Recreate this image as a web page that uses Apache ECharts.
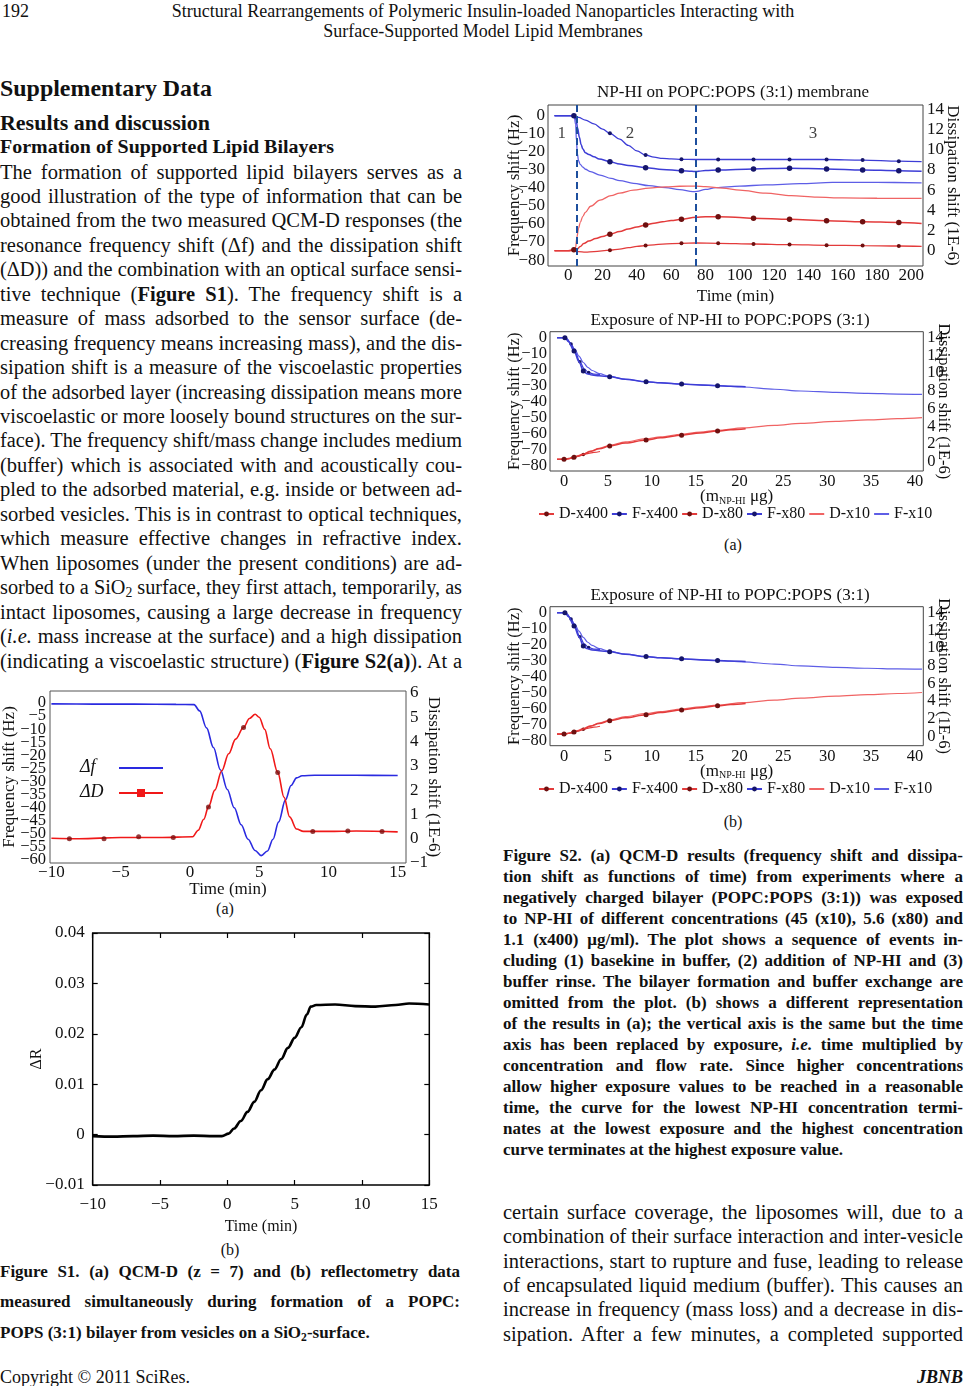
<!DOCTYPE html>
<html><head><meta charset="utf-8">
<script src="https://cdn.jsdelivr.net/npm/echarts/dist/echarts.min.js"></script>
<style>
html,body{margin:0;padding:0;background:#fff;}
#page{position:relative;width:965px;height:1386px;overflow:hidden;font-family:'Liberation Serif','Times New Roman',serif;color:#111;}
#chart{position:absolute;left:0;top:0;width:965px;height:1386px;z-index:2;}
.ln{position:absolute;white-space:nowrap;transform-origin:0 50%;z-index:1;}
.ln sub{font-size:0.68em;vertical-align:-0.25em;line-height:0;}
</style></head>
<body><div id="page"><div id="chart"></div></div>
<script>
// ---------------- DATA ----------------
// Figure S1(a): QCM-D
const s1aTime = [-10, -7, -4, -1, 0.3, 0.7, 1.2, 1.7, 2.2, 2.7, 3.2, 3.7, 4.2, 4.7, 5.15, 5.6, 6.0, 6.4, 6.9, 7.3, 7.7, 8.1, 9, 12, 15];
const s1aFreq = [-0.3, -0.4, -0.4, -0.5, -0.6, -3, -9.5, -17, -25.5, -33, -40, -46.5, -52, -56.3, -58.3, -56.5, -52, -45.5, -37, -31.5, -28.6, -27.8, -27.6, -27.6, -27.7];
const s1aDTime = [-10, -8, -5, -2, 0.2, 0.6, 1.0, 1.34, 1.8, 2.3, 2.8, 3.3, 3.87, 4.3, 4.71, 5.0, 5.4, 5.8, 6.34, 6.8, 7.2, 7.7, 8.2, 10, 12, 15];
const s1aDiss = [0.02, 0.0, 0.05, 0.05, 0.08, 0.35, 0.8, 1.31, 2.0, 2.8, 3.5, 4.1, 4.58, 4.95, 5.12, 5.0, 4.5, 3.7, 2.73, 1.7, 0.9, 0.4, 0.3, 0.3, 0.32, 0.28];
const s1aMarkT = [-8.7, -6.2, -3.7, -1.2, 1.34, 3.87, 6.34, 8.87, 11.4, 13.87];
const s1aMarkD = [0.0, 0.0, 0.08, 0.05, 1.31, 4.58, 2.73, 0.3, 0.32, 0.3];
const s1aFreqTicksA = [0, -10, -20, -30, -40, -50, -60];
const s1aFreqTicksB = [-5, -15, -25, -35, -45, -55];
const s1aDissTicks = [-1, 0, 1, 2, 3, 4, 5, 6];
const s1aTimeTicks = [-10, -5, 0, 5, 10, 15];

// Figure S1(b): reflectometry
const s1bTime = [-10, -8.5, -7, -5.5, -4, -2.5, -1, -0.4, 0.1, 0.5, 1.0, 1.5, 2.0, 2.5, 3.0, 3.5, 4.0, 4.5, 5.0, 5.5, 5.9, 6.2, 6.6, 8, 9.5, 11, 12.5, 13.5, 15];
const s1bR = [-0.0003, -0.0004, -0.0003, -0.0002, -0.0003, -0.0002, -0.0003, -0.0003, 0.0002, 0.0012, 0.0027, 0.0045, 0.0065, 0.0088, 0.011, 0.0129, 0.015, 0.0172, 0.0192, 0.0213, 0.0238, 0.0254, 0.0257, 0.0258, 0.0255, 0.0254, 0.0257, 0.0260, 0.0258];

// Figure S2(a) top: time course
const tTicks = [0, 20, 40, 60, 80, 100, 120, 140, 160, 180, 200];
const freqTicks = [0, -10, -20, -30, -40, -50, -60, -70, -80];
const freqTicksA = [0, -20, -40, -60, -80];
const freqTicksB = [-10, -30, -50, -70];
const dissTicks = [0, 2, 4, 6, 8, 10, 12, 14];
const dividerTimes = [4.9, 74.3];
const regionLabels = ['1', '2', '3'];
const regionLabelX = [-3.8, 36, 142.7];
const regionLabelY = [-10, -10, -10];

const tF400x = [-8, 0, 3.3, 6, 10, 15, 20, 24.3, 30, 35, 40, 45.1, 50, 55, 60, 66, 74.3, 87.4, 108, 129, 150.6, 171.6, 192.7, 206];
const tF400y = [0, 0, 0, -1, -2.5, -4.6, -7.5, -9.8, -13, -16.5, -19.5, -21.8, -23, -23.7, -24, -24.2, -24.3, -24.3, -24.3, -24.3, -24.3, -24.6, -25.2, -25.5];
const tF400m = [24.3, 45.1, 66, 87.4, 108, 129, 150.6, 171.6, 192.7];

const tF80x = [-8, 0, 3.3, 4.5, 5.5, 6.5, 7.5, 8.5, 10, 12, 15, 18, 24.3, 30, 35, 45.1, 55, 66, 72, 74.3, 76, 80, 87.4, 108, 129, 150.6, 171.6, 192.7, 206];
const tF80y = [0, 0, 0, -2, -7, -12, -16, -18.5, -20.5, -21.5, -22.8, -24, -25.5, -26.8, -27.6, -28.8, -29.8, -30.5, -30.8, -31, -30.8, -30.4, -30.1, -29.5, -29.2, -29.5, -30.1, -30.5, -30.8];
const tF80m = [3.3, 24.3, 45.1, 66, 87.4, 108, 129, 150.6, 171.6, 192.7];

const tF10x = [-8, 0, 3.5, 4.3, 4.8, 5.3, 6, 7, 8.5, 10, 13, 18.5, 25, 30, 38, 47, 56.7, 65, 72.7, 75, 80, 86, 100, 115, 135, 154, 180, 206];
const tF10y = [0, 0, 0, -5, -14, -21, -25, -27, -28.5, -29.7, -31, -32.9, -34.8, -36, -37.5, -38.8, -39.9, -41, -42.1, -42, -40.9, -39.9, -39, -38.4, -37.7, -37, -37, -37.2];

const tD10x = [-8, 0, 3.5, 4.3, 5, 6, 7, 8.5, 10, 13, 18.5, 25, 30, 38, 47, 56.7, 65, 74.3, 80, 90, 100, 115, 130, 145, 160, 180, 206];
const tD10y = [0, 0, 0, 0.3, 1.3, 2.2, 2.8, 3.4, 3.8, 4.4, 5.0, 5.45, 5.7, 6.0, 6.2, 6.32, 6.38, 6.4, 6.35, 6.2, 6.0, 5.7, 5.45, 5.3, 5.22, 5.19, 5.18];

const tD80x = [-8, 0, 3.3, 5, 7, 9, 12, 16, 20, 24.3, 30, 35, 40, 45.1, 50, 55, 60, 66, 74.3, 80, 87.4, 100, 108, 129, 150.6, 171.6, 192.7, 206];
const tD80y = [0, 0, 0.1, 0.15, 0.4, 0.7, 0.95, 1.2, 1.4, 1.62, 1.9, 2.15, 2.35, 2.55, 2.72, 2.87, 2.98, 3.1, 3.3, 3.35, 3.37, 3.28, 3.2, 3.1, 2.97, 2.87, 2.8, 2.7];
const tD80m = [3.3, 24.3, 45.1, 66, 87.4, 108, 129, 150.6, 171.6, 192.7];

const tD400x = [-8, 0, 3.3, 6, 10, 15, 24.3, 30, 35, 40, 45.1, 50, 55, 66, 74.3, 87.4, 108, 129, 150.6, 171.6, 192.7, 206];
const tD400y = [0, 0, 0.05, -0.1, -0.15, -0.1, 0.05, 0.15, 0.3, 0.42, 0.5, 0.58, 0.65, 0.73, 0.76, 0.73, 0.66, 0.6, 0.53, 0.5, 0.46, 0.43];
const tD400m = [24.3, 45.1, 66, 87.4, 108, 129, 150.6, 171.6, 192.7];

// Figure S2 exposure representation
const eTicks = [0, 5, 10, 15, 20, 25, 30, 35, 40];
const eF10x = [-0.8, 0, 0.3, 0.7, 1.2, 1.7, 2.2, 2.7, 3.2, 4, 5.2, 7, 9.35, 11, 13.4, 15.5, 17.5, 20.4, 24, 27, 31, 34.6, 38, 40.8];
const eF10y = [0, 0, -0.5, -3, -7, -11.5, -15.5, -18.5, -20.5, -22.5, -24.2, -26, -27.5, -28.2, -29, -29.5, -30, -30.8, -32.2, -33.3, -34.2, -34.8, -35.2, -35.4];
const eF80x = [-0.8, 0, 0.1, 0.5, 1.14, 1.7, 2.2, 2.6, 3.2, 4, 5.2, 7, 9.35, 11, 13.4, 15.5, 17.5, 19, 20.7];
const eF80y = [0, 0, 0, -2.5, -8.3, -15, -20.8, -22.5, -23.3, -23.8, -24.4, -26, -27.5, -28.2, -28.9, -29.5, -30, -30.3, -30.6];
const eF80m = [0.1, 1.14, 2.2, 5.2, 9.35, 13.4, 17.5];
const eF400x = [-0.8, 0, 0.3, 0.8, 1.3, 1.8, 2.3, 2.8, 3.4, 4.1];
const eF400y = [0, 0, -0.5, -4, -9.5, -15, -19.5, -21.8, -22.8, -23];
const eF400m = [0.8, 1.8, 2.8];
const eD10x = [-0.8, 0, 0.5, 1.0, 1.5, 2.2, 3, 4, 5.2, 7, 9.35, 11, 13.4, 15.5, 17.5, 20.4, 24, 27, 31, 34.6, 38, 40.8];
const eD10y = [0.27, 0.27, 0.35, 0.5, 0.65, 0.9, 1.2, 1.5, 1.85, 2.25, 2.6, 2.8, 3.1, 3.35, 3.55, 3.82, 4.1, 4.33, 4.55, 4.72, 4.86, 4.97];
const eD80x = [-0.8, 0, 0.5, 1.14, 1.7, 2.2, 3, 4, 5.2, 7, 9.35, 11, 13.4, 15.5, 17.5, 19, 20.7];
const eD80y = [0.27, 0.27, 0.35, 0.5, 0.65, 0.83, 1.15, 1.45, 1.77, 2.1, 2.45, 2.7, 3.0, 3.25, 3.47, 3.6, 3.72];
const eD80m = [0, 1.14, 5.2, 9.35, 13.4, 17.5];
const eD400x = [-0.8, 0, 0.5, 1.0, 1.5, 2.2, 2.8, 3.4, 4.1];
const eD400y = [0.27, 0.27, 0.33, 0.45, 0.6, 0.8, 0.95, 1.05, 1.15];
const eD400m = [1.0, 2.2];
const legendNames = ['D-x400', 'F-x400', 'D-x80', 'F-x80', 'D-x10', 'F-x10'];

// ---------------- TEXT ----------------
const bodyLeft = [
 "The formation of supported lipid bilayers serves as a",
 "good illustration of the type of information that can be",
 "obtained from the two measured QCM-D responses (the",
 "resonance frequency shift (Δf) and the dissipation shift",
 "(ΔD)) and the combination with an optical surface sensi-",
 "tive technique (<b>Figure S1</b>). The frequency shift is a",
 "measure of mass adsorbed to the sensor surface (de-",
 "creasing frequency means increasing mass), and the dis-",
 "sipation shift is a measure of the viscoelastic properties",
 "of the adsorbed layer (increasing dissipation means more",
 "viscoelastic or more loosely bound structures on the sur-",
 "face). The frequency shift/mass change includes medium",
 "(buffer) which is associated with and acoustically cou-",
 "pled to the adsorbed material, e.g. inside or between ad-",
 "sorbed vesicles. This is in contrast to optical techniques,",
 "which measure effective changes in refractive index.",
 "When liposomes (under the present conditions) are ad-",
 "sorbed to a SiO<sub>2</sub> surface, they first attach, temporarily, as",
 "intact liposomes, causing a large decrease in frequency",
 "(<i>i.e.</i> mass increase at the surface) and a high dissipation",
 "(indicating a viscoelastic structure) (<b>Figure S2(a)</b>). At a"
];
const bodyRight = [
 "certain surface coverage, the liposomes will, due to a",
 "combination of their surface interaction and inter-vesicle",
 "interactions, start to rupture and fuse, leading to release",
 "of encapsulated liquid medium (buffer). This causes an",
 "increase in frequency (mass loss) and a decrease in dis-",
 "sipation. After a few minutes, a completed supported"
];
const capS1 = [
 "Figure S1. (a) QCM-D (z = 7) and (b) reflectometry data",
 "measured simultaneously during formation of a POPC:",
 "POPS (3:1) bilayer from vesicles on a SiO<sub>2</sub>-surface."
];
const capS2 = [
 "Figure S2. (a) QCM-D results (frequency shift and dissipa-",
 "tion shift as functions of time) from experiments where a",
 "negatively charged bilayer (POPC:POPS (3:1)) was exposed",
 "to NP-HI of different concentrations (45 (x10), 5.6 (x80) and",
 "1.1 (x400) μg/ml). The plot shows a sequence of events in-",
 "cluding (1) basekine in buffer, (2) addition of NP-HI and (3)",
 "buffer rinse. The bilayer formation and buffer exchange are",
 "omitted from the plot. (b) shows a different representation",
 "of the results in (a); the vertical axis is the same but the time",
 "axis has been replaced by exposure, <i>i.e.</i> time multiplied by",
 "concentration and flow rate. Since higher concentrations",
 "allow higher exposure values to be reached in a reasonable",
 "time, the curve for the lowest NP-HI concentration termi-",
 "nates at the lowest exposure and the highest concentration",
 "curve terminates at the highest exposure value."
];

const page = document.getElementById('page');
function addLine(html, x, yc, w, o) {
  const d = document.createElement('div');
  d.className = 'ln';
  const fs = o.size, lh = Math.round(fs * 1.25);
  d.style.top = (yc - lh / 2) + 'px';
  d.style.fontSize = fs + 'px';
  d.style.lineHeight = lh + 'px';
  d.style.height = lh + 'px';
  if (o.bold) d.style.fontWeight = 'bold';
  if (o.italic) d.style.fontStyle = 'italic';
  const s = document.createElement('span');
  s.innerHTML = html;
  d.appendChild(s);
  page.appendChild(d);
  const nat = s.getBoundingClientRect().width;
  let scale = 1;
  if (o.justify) {
    const n = (s.textContent.match(/ /g) || []).length;
    if (nat < w && n > 0) s.style.wordSpacing = ((w - nat) / n) + 'px';
    else if (nat > w) scale = w / nat;
  } else if (o.fit) {
    scale = w / nat;
  } else if (w && nat > w) {
    scale = w / nat;
  }
  if (scale !== 1) d.style.transform = 'scaleX(' + scale + ')';
  const fw = (o.justify ? Math.min(w, nat * scale) : nat * scale);
  let left = x;
  if (o.align === 'center') left = x - fw / 2;
  else if (o.align === 'right') left = x - fw;
  d.style.left = left + 'px';
}

// header
addLine("192", 2, 11, 0, {size: 18});
addLine("Structural Rearrangements of Polymeric Insulin-loaded Nanoparticles Interacting with", 483, 11, 0, {size: 18, align: 'center'});
addLine("Surface-Supported Model Lipid Membranes", 483, 31, 0, {size: 18, align: 'center'});
addLine("Supplementary Data", 0, 88, 212, {size: 23, bold: true, fit: true});
addLine("Results and discussion", 0, 123, 210, {size: 20, bold: true, fit: true});
addLine("Formation of Supported Lipid Bilayers", 0, 147, 334, {size: 18, bold: true, fit: true});
bodyLeft.forEach((t, i) => addLine(t, 0, 171.5 + i * 24.45, 462, {size: 20.5, justify: true}));
bodyRight.forEach((t, i) => addLine(t, 503, 1212 + i * 24.3, 460, {size: 20.5, justify: true}));
capS1.forEach((t, i) => addLine(t, 0, 1271 + i * 30.8, 460, {size: 17, bold: true, justify: i < 2}));
capS2.forEach((t, i) => addLine(t, 503, 855 + i * 21, 460, {size: 17, bold: true, justify: i < 14}));
addLine("(a)", 225, 909, 0, {size: 16, align: 'center'});
addLine("(b)", 230, 1250, 0, {size: 16, align: 'center'});
addLine("(a)", 733, 545, 0, {size: 16, align: 'center'});
addLine("(b)", 733, 822, 0, {size: 16, align: 'center'});
addLine("Copyright © 2011 SciRes.", 0, 1377, 0, {size: 18});
addLine("JBNB", 963, 1377, 0, {size: 18, bold: true, italic: true, align: 'right'});

// ---------------- CHART ----------------
const FONT = "'Liberation Serif', 'Times New Roman', serif";
const INK = '#111';
const blue = '#3d3dd6', blueL = '#5e5ee6', red = '#e33b3b', redL = '#f06464', navy = '#15156a', maroon = '#6e1010';
const fmtMinus = v => (v < 0 ? '\u2212' + Math.abs(v) : String(v));
const pairs = (xs, ys) => xs.map((x, i) => [x, ys[i]]);
function withMarks(xs, ys, marks, color, size) {
  return xs.map((x, i) => marks.indexOf(x) >= 0
    ? {value: [x, ys[i]], symbol: 'circle', symbolSize: size, itemStyle: {color: color}}
    : {value: [x, ys[i]], symbol: 'none'});
}
function lineS(name, xi, yi, data, color, width, z) {
  return {type: 'line', name: name, xAxisIndex: xi, yAxisIndex: yi, data: data,
    symbol: 'none', showSymbol: true, showAllSymbol: true, smooth: 0.35, smoothMonotone: 'x',
    lineStyle: {color: color, width: width}, itemStyle: {color: color}, z: z || 2,
    emphasis: {disabled: true}, silent: true};
}
const txt = (size) => ({fontFamily: FONT, fontSize: size, color: INK});
function axis(o) {
  return Object.assign({type: 'value', splitLine: {show: false}, axisTick: {show: false},
    axisLine: {show: false, onZero: false}, nameLocation: 'middle', nameMoveOverlap: false,
    nameTextStyle: txt(17)}, o);
}
function lab(custom, size, margin) {
  return Object.assign({customValues: custom, formatter: fmtMinus, margin: margin, hideOverlap: false,
    showMinLabel: true, showMaxLabel: true}, txt(size));
}

function expAxes(gi) {
  return {
    x: axis({gridIndex: gi, min: -1.6, max: 40.95, axisLabel: lab(eTicks, 16.5, 2),
      name: '(m{s|NP-HI} μg)', nameGap: 17,
      nameTextStyle: Object.assign(txt(17), {rich: {s: {fontFamily: FONT, fontSize: 10, color: INK, padding: [8, 0, 0, 0]}}})}),
    yl: axis({gridIndex: gi, position: 'left', min: -83.3, max: 3.75, axisLabel: lab(freqTicksA, 16.5, 3),
      name: 'Frequency shift (Hz)', nameRotate: 90, nameGap: 27, nameTextStyle: txt(16.5)}),
    ylB: axis({gridIndex: gi, position: 'left', min: -83.3, max: 3.75, axisLabel: lab(freqTicksB, 16.5, 3)}),
    yr: axis({gridIndex: gi, position: 'right', min: -1.05, max: 14.68, axisLabel: lab(dissTicks, 16.5, 4),
      name: 'Dissipation shift (1E-6)', nameRotate: -90, nameGap: 12, nameTextStyle: txt(16.5)})
  };
}
function expSeries(xi, yl, yr) {
  return [
    lineS('F-x10', xi, yl, pairs(eF10x, eF10y), blueL, 1.2, 2),
    lineS('D-x10', xi, yr, pairs(eD10x, eD10y), redL, 1.2, 2),
    lineS('F-x400', xi, yl, withMarks(eF400x, eF400y, eF400m, navy, 3.5), blue, 1.2, 3),
    lineS('D-x400', xi, yr, withMarks(eD400x, eD400y, eD400m, maroon, 3.5), red, 1.2, 3),
    lineS('F-x80', xi, yl, withMarks(eF80x, eF80y, eF80m, navy, 5), blue, 1.5, 4),
    lineS('D-x80', xi, yr, withMarks(eD80x, eD80y, eD80m, maroon, 5), red, 1.5, 4)
  ];
}
function expLegend(top) {
  return {left: 538, top: top, itemWidth: 15, itemHeight: 6, itemGap: 3, padding: 0, selectedMode: false,
    textStyle: txt(16),
    data: [
      {name: 'D-x400', itemStyle: {color: maroon}},
      {name: 'F-x400', itemStyle: {color: navy}},
      {name: 'D-x80', itemStyle: {color: maroon}},
      {name: 'F-x80', itemStyle: {color: navy}},
      {name: 'D-x10', itemStyle: {opacity: 0}},
      {name: 'F-x10', itemStyle: {opacity: 0}}
    ]};
}
const ea = expAxes(3), eb = expAxes(4);

const option = {
  animation: false,
  backgroundColor: 'transparent',
  title: [
    {text: 'NP-HI on POPC:POPS (3:1) membrane', left: 733, top: 84, textAlign: 'center', padding: 0, textStyle: Object.assign(txt(17), {fontWeight: 'normal'})},
    {text: 'Exposure of NP-HI to POPC:POPS (3:1)', left: 730, top: 312, textAlign: 'center', padding: 0, textStyle: Object.assign(txt(17), {fontWeight: 'normal'})},
    {text: 'Exposure of NP-HI to POPC:POPS (3:1)', left: 730, top: 587, textAlign: 'center', padding: 0, textStyle: Object.assign(txt(17), {fontWeight: 'normal'})}
  ],
  legend: [expLegend(506), expLegend(781)],
  grid: [
    {left: 50, top: 691, width: 356, height: 172, show: true, borderColor: '#555', borderWidth: 1, backgroundColor: 'transparent'},
    {left: 92.7, top: 933, width: 336.6, height: 252, show: true, borderColor: '#000', borderWidth: 1.5, backgroundColor: 'transparent'},
    {left: 548, top: 105, width: 375, height: 161, show: true, borderColor: '#444', borderWidth: 1, backgroundColor: 'transparent'},
    {left: 550, top: 331.7, width: 373.3, height: 139.3, show: true, borderColor: '#444', borderWidth: 1, backgroundColor: 'transparent'},
    {left: 550, top: 606.7, width: 373.3, height: 139, show: true, borderColor: '#444', borderWidth: 1, backgroundColor: 'transparent'}
  ],
  xAxis: [
    axis({gridIndex: 0, min: -10.1, max: 15.6, axisLabel: lab(s1aTimeTicks, 17, 1), name: 'Time (min)', nameGap: 18}),
    axis({gridIndex: 1, min: -10, max: 15, interval: 5, axisLabel: Object.assign({formatter: fmtMinus, margin: 11}, txt(17)),
      axisTick: {show: true, inside: true, length: 5, lineStyle: {color: '#000', width: 1.2}}, name: 'Time (min)', nameGap: 34, nameTextStyle: txt(16)}),
    axis({gridIndex: 1, position: 'top', min: -10, max: 15, interval: 5, axisLabel: {show: false},
      axisTick: {show: true, inside: true, length: 5, lineStyle: {color: '#000', width: 1.2}}}),
    axis({gridIndex: 2, min: -11.8, max: 206.8, axisLabel: lab(tTicks, 17, 1), name: 'Time (min)', nameGap: 22}),
    ea.x, eb.x
  ],
  yAxis: [
    axis({gridIndex: 0, position: 'left', min: -61.1, max: 4.6, axisLabel: lab(s1aFreqTicksA, 16.5, 4),
      name: 'Frequency shift (Hz)', nameRotate: 90, nameGap: 32}),
    axis({gridIndex: 0, position: 'right', min: -1.0, max: 6.08, axisLabel: lab(s1aDissTicks, 17, 4),
      name: 'Dissipation shift (1E-6)', nameRotate: -90, nameGap: 19}),
    axis({gridIndex: 1, position: 'left', min: -0.01, max: 0.04, interval: 0.01,
      axisLabel: Object.assign({margin: 8, showMinLabel: true, showMaxLabel: true,
        formatter: v => (Math.abs(v) < 1e-9 ? '0' : (v < 0 ? '\u2212' : '') + Math.abs(v).toFixed(2))}, txt(17)),
      axisTick: {show: true, inside: true, length: 5, lineStyle: {color: '#000', width: 1.2}},
      name: 'ΔR', nameRotate: 90, nameGap: 48, nameTextStyle: txt(16)}),
    axis({gridIndex: 1, position: 'right', min: -0.01, max: 0.04, interval: 0.01, axisLabel: {show: false},
      axisTick: {show: true, inside: true, length: 5, lineStyle: {color: '#000', width: 1.2}}}),
    axis({gridIndex: 2, position: 'left', min: -83.3, max: 5.9, axisLabel: lab(freqTicks, 17, 3),
      name: 'Frequency shift (Hz)', nameRotate: 90, nameGap: 25}),
    axis({gridIndex: 2, position: 'right', min: -1.52, max: 14.43, axisLabel: lab(dissTicks, 17, 4),
      name: 'Dissipation shift (1E-6)', nameRotate: -90, nameGap: 21}),
    ea.yl, ea.yr, eb.yl, eb.yr,
    // companion label-only axes (index 10, 11, 12)
    axis({gridIndex: 0, position: 'left', min: -61.1, max: 4.6, axisLabel: lab(s1aFreqTicksB, 16.5, 4)}),
    ea.ylB, eb.ylB
  ],
  graphic: [
    {type: 'text', left: 80, top: 758, style: {text: 'Δf', font: "italic 18px 'Liberation Serif'", fill: INK}},
    {type: 'line', shape: {x1: 119, y1: 768, x2: 163, y2: 768}, style: {stroke: '#2a2ae0', lineWidth: 2}},
    {type: 'text', left: 80, top: 783, style: {text: 'ΔD', font: "italic 18px 'Liberation Serif'", fill: INK}},
    {type: 'line', shape: {x1: 119, y1: 793, x2: 163, y2: 793}, style: {stroke: '#f01818', lineWidth: 2}},
    {type: 'rect', shape: {x: 137, y: 789, width: 8, height: 8}, style: {fill: '#f01818'}}
  ],
  series: [
    // S1(a)
    lineS('Δf', 0, 0, pairs(s1aTime, s1aFreq), '#2a2ae0', 1.6, 2),
    lineS('ΔD', 0, 1, pairs(s1aDTime, s1aDiss), '#f01818', 1.6, 2),
    {type: 'scatter', name: 'ΔD marks', xAxisIndex: 0, yAxisIndex: 1, data: pairs(s1aMarkT, s1aMarkD),
      symbolSize: 5, itemStyle: {color: '#7a0c0c'}, z: 3, silent: true},
    // S1(b)
    lineS('ΔR', 1, 2, pairs(s1bTime, s1bR), '#000', 2.6, 2),
    // S2 time course
    lineS('F-x10', 3, 4, pairs(tF10x, tF10y), blueL, 1.3, 2),
    lineS('D-x10', 3, 5, pairs(tD10x, tD10y), redL, 1.3, 2),
    lineS('F-x400', 3, 4, withMarks(tF400x, tF400y, tF400m, navy, 4), blue, 1.3, 3),
    lineS('D-x400', 3, 5, withMarks(tD400x, tD400y, tD400m, maroon, 4), red, 1.3, 3),
    lineS('F-x80', 3, 4, withMarks(tF80x, tF80y, tF80m, navy, 5.5), blue, 1.5, 4),
    lineS('D-x80', 3, 5, withMarks(tD80x, tD80y, tD80m, maroon, 5.5), red, 1.5, 4),
    {type: 'scatter', name: 'regions', xAxisIndex: 3, yAxisIndex: 4, silent: true,
      data: regionLabelX.map((x, i) => [x, regionLabelY[i]]),
      symbolSize: 1, itemStyle: {color: 'rgba(0,0,0,0)'},
      label: Object.assign({show: true, position: 'inside', formatter: p => regionLabels[p.dataIndex]}, txt(17)),
      markLine: {silent: true, symbol: 'none', label: {show: false},
        lineStyle: {color: '#1d4f9e', type: [7, 4], width: 2},
        data: dividerTimes.map(t => ({xAxis: t}))}}
  ].concat(expSeries(4, 6, 7), expSeries(5, 8, 9))
};
const chart = echarts.init(document.getElementById('chart'), null, {renderer: 'canvas'});
chart.setOption(option);
</script>
</body></html>
